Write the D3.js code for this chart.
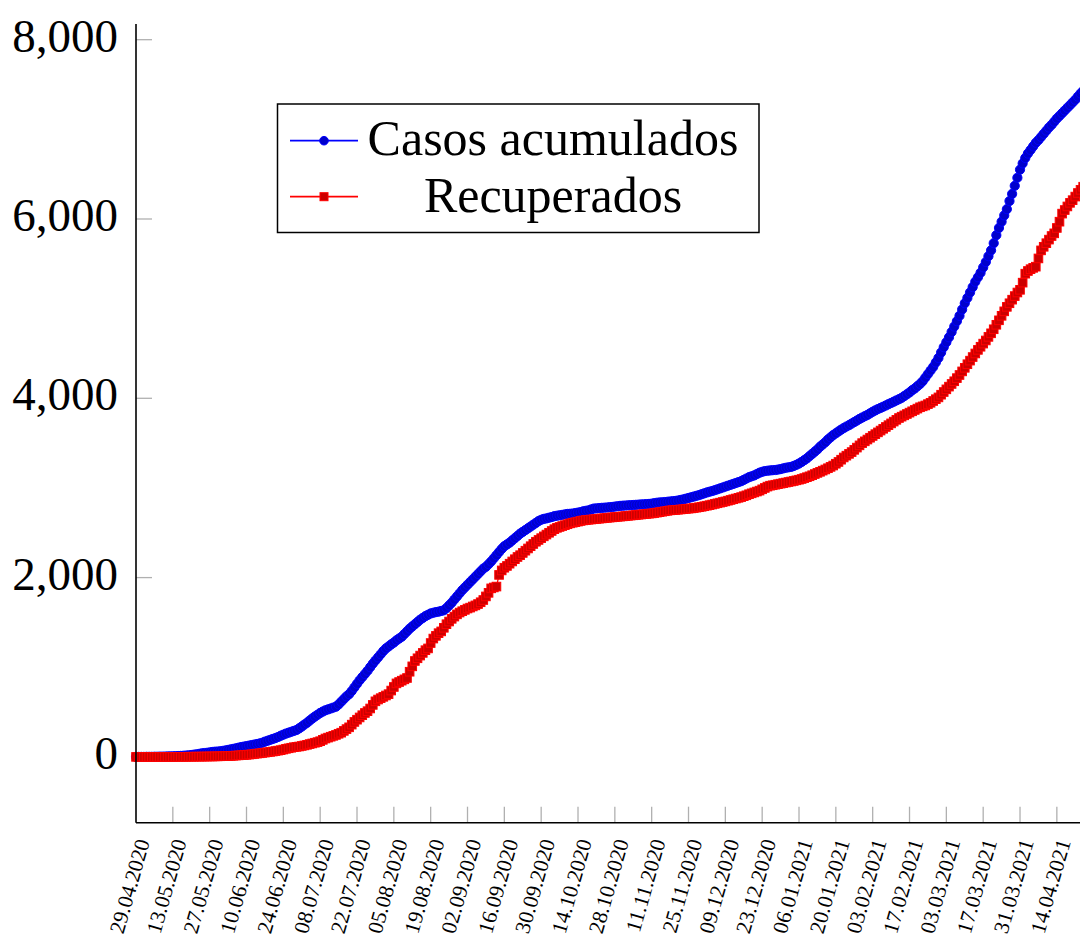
<!DOCTYPE html>
<html>
<head>
<meta charset="utf-8">
<script src="https://cdn.jsdelivr.net/npm/d3@7"></script>
<style>
  html, body { margin: 0; padding: 0; background: #fff; }
  svg { display: block; }
  text { font-family: "Liberation Serif", "DejaVu Serif", serif; fill: #000; }
</style>
</head>
<body>
<svg id="chart" width="1080" height="943"></svg>
<script>
// ---------- data (daily values starting 29.04.2020) ----------
const startDate = "29.04.2020";
const seriesNames = ["Casos acumulados", "Recuperados"];

const casosAcumulados = [
  0,0,0,0,1,1,1,2,2,3,
  3,4,5,6,7,8,10,11,13,15,
  18,21,25,29,34,40,43,46,50,55,
  58,60,63,67,72,78,84,90,96,103,
  110,115,120,126,132,138,144,150,158,170,
  180,190,200,210,222,236,248,260,270,280,
  290,300,318,338,360,380,405,428,450,470,
  490,506,520,530,540,550,560,585,615,645,
  675,700,735,775,815,855,890,925,960,1000,
  1040,1075,1110,1145,1180,1210,1232,1255,1275,1300,
  1320,1340,1370,1400,1430,1455,1480,1505,1530,1550,
  1570,1585,1600,1608,1615,1620,1628,1635,1660,1690,
  1720,1755,1790,1825,1860,1890,1920,1950,1980,2010,
  2040,2070,2100,2120,2150,2180,2215,2250,2285,2320,
  2350,2370,2390,2415,2440,2465,2490,2510,2530,2550,
  2570,2590,2610,2630,2645,2655,2660,2668,2675,2685,
  2690,2695,2700,2705,2710,2712,2715,2720,2725,2730,
  2740,2745,2750,2760,2770,2772,2775,2778,2780,2782,
  2785,2788,2792,2796,2800,2802,2804,2806,2808,2810,
  2812,2814,2816,2818,2820,2822,2825,2830,2835,2838,
  2840,2843,2846,2849,2852,2855,2860,2866,2872,2880,
  2888,2896,2904,2912,2920,2930,2940,2950,2958,2966,
  2975,2985,2995,3005,3015,3025,3035,3045,3055,3065,
  3075,3090,3105,3120,3130,3140,3155,3170,3180,3188,
  3192,3195,3198,3200,3205,3210,3218,3225,3230,3235,
  3245,3258,3272,3290,3310,3330,3355,3380,3405,3430,
  3460,3485,3510,3540,3565,3590,3610,3630,3650,3668,
  3685,3700,3718,3735,3752,3770,3785,3800,3815,3832,
  3850,3865,3880,3893,3906,3920,3934,3948,3962,3976,
  3990,4005,4025,4045,4065,4090,4110,4135,4160,4190,
  4230,4270,4310,4350,4400,4450,4510,4570,4625,4680,
  4740,4800,4860,4920,4990,5060,5120,5180,5240,5300,
  5350,5400,5460,5520,5585,5650,5730,5820,5900,5970,
  6040,6110,6200,6280,6370,6460,6550,6620,6680,6730,
  6770,6810,6850,6880,6915,6950,6985,7020,7050,7085,
  7120,7150,7180,7210,7240,7270,7300,7330,7365,7400,
  7430,7460
];

const recuperados = [
  0,0,0,0,0,0,0,0,0,0,
  0,0,0,0,0,1,1,1,1,1,
  2,2,2,3,3,3,4,4,5,5,
  6,6,7,8,9,10,11,13,15,17,
  19,21,23,26,29,33,37,40,44,48,
  52,56,60,65,70,75,82,90,96,102,
  108,112,116,122,128,135,143,150,158,165,
  175,190,205,215,225,235,245,258,270,290,
  310,330,360,390,415,440,465,490,510,540,
  580,620,640,655,670,685,700,740,780,820,
  835,850,865,880,950,1010,1070,1100,1130,1160,
  1190,1210,1270,1320,1350,1380,1400,1440,1480,1510,
  1540,1565,1590,1610,1625,1640,1655,1665,1678,1690,
  1705,1725,1750,1790,1830,1880,1890,1900,2030,2080,
  2110,2130,2155,2180,2205,2230,2250,2275,2300,2325,
  2350,2375,2400,2420,2440,2460,2480,2500,2520,2540,
  2555,2565,2575,2585,2595,2605,2612,2618,2625,2632,
  2638,2642,2645,2648,2651,2654,2657,2660,2663,2666,
  2669,2672,2675,2678,2680,2683,2686,2689,2692,2695,
  2698,2701,2704,2707,2710,2713,2716,2720,2725,2730,
  2735,2740,2745,2750,2752,2755,2757,2760,2763,2766,
  2769,2772,2776,2780,2785,2790,2796,2802,2808,2815,
  2822,2829,2836,2843,2850,2858,2866,2874,2882,2890,
  2898,2908,2918,2930,2940,2950,2960,2970,2985,3000,
  3015,3025,3030,3036,3042,3048,3054,3060,3066,3072,
  3078,3085,3092,3100,3110,3120,3130,3142,3155,3168,
  3180,3193,3206,3220,3235,3250,3270,3290,3315,3340,
  3360,3380,3400,3425,3450,3475,3500,3520,3540,3560,
  3580,3600,3620,3640,3660,3680,3700,3720,3740,3760,
  3780,3795,3810,3825,3840,3855,3870,3885,3900,3910,
  3920,3935,3950,3970,3990,4010,4040,4070,4100,4130,
  4160,4190,4225,4260,4300,4340,4380,4420,4460,4500,
  4540,4575,4610,4645,4685,4725,4770,4820,4870,4920,
  4970,5020,5060,5100,5140,5180,5210,5290,5390,5420,
  5440,5455,5468,5560,5650,5690,5730,5770,5810,5840,
  5900,5970,6060,6100,6140,6180,6210,6250,6290,6325,
  6360,6400
];

const xTickLabels = [
  "29.04.2020","13.05.2020","27.05.2020","10.06.2020","24.06.2020","08.07.2020",
  "22.07.2020","05.08.2020","19.08.2020","02.09.2020","16.09.2020","30.09.2020",
  "14.10.2020","28.10.2020","11.11.2020","25.11.2020","09.12.2020","23.12.2020",
  "06.01.2021","20.01.2021","03.02.2021","17.02.2021","03.03.2021","17.03.2021",
  "31.03.2021","14.04.2021"
];
const yTickValues = [0, 2000, 4000, 6000, 8000];
const xAxisEnd = "25.04.2021";
const yDomain = [-734, 8175];

// ---------- layout ----------
const parse = d3.timeParse("%d.%m.%Y");
const t0 = parse(startDate);
const t1 = parse(xAxisEnd);
const pxPerDay = 2.631;
const plotLeft = 136, plotTop = 24, plotBottom = 822.7;
const plotRight = plotLeft + pxPerDay * d3.timeDay.count(t0, t1);

const x = d3.scaleTime().domain([t0, t1]).range([plotLeft, plotRight]);
const y = d3.scaleLinear().domain(yDomain).range([plotBottom, plotTop]);

const svg = d3.select("#chart");

const mk = arr => arr.map((v, i) => ({ date: d3.timeDay.offset(t0, i), v }));
const blueData = mk(casosAcumulados);
const redData = mk(recuperados);

// ---------- ticks ----------
const tickGray = "#b0b0b0";
const xTickDates = xTickLabels.map(parse);

const gx = svg.append("g");
gx.selectAll("line.tick").data(xTickDates.slice(1)).join("line")
  .attr("x1", d => x(d)).attr("x2", d => x(d))
  .attr("y1", plotBottom).attr("y2", plotBottom - 16)
  .attr("stroke", tickGray).attr("stroke-width", 1.3);

gx.selectAll("text").data(xTickLabels).join("text")
  .attr("transform", d => `translate(${x(parse(d)) + 14},${plotBottom + 19}) rotate(-74)`)
  .attr("text-anchor", "end")
  .attr("font-size", 21.5)
  .text(d => d);

const gy = svg.append("g");
gy.selectAll("line").data(yTickValues).join("line")
  .attr("x1", plotLeft).attr("x2", plotLeft + 16)
  .attr("y1", d => y(d)).attr("y2", d => y(d))
  .attr("stroke", tickGray).attr("stroke-width", 1.3);

gy.selectAll("text").data(yTickValues).join("text")
  .attr("x", plotLeft - 18).attr("y", d => y(d) + 12)
  .attr("text-anchor", "end")
  .attr("font-size", 47)
  .text(d => d3.format(",")(d));

// ---------- series ----------
const line = d3.line().x(d => x(d.date)).y(d => y(d.v));

const gBlue = svg.append("g");
gBlue.append("path").datum(blueData)
  .attr("d", line).attr("fill", "none").attr("stroke", "#0000ff").attr("stroke-width", 1.3);
gBlue.selectAll("circle").data(blueData).join("circle")
  .attr("cx", d => x(d.date)).attr("cy", d => y(d.v)).attr("r", 4.6)
  .attr("fill", "#0000cc").attr("stroke", "#0000ff").attr("stroke-width", 1);

const gRed = svg.append("g");
gRed.append("path").datum(redData)
  .attr("d", line).attr("fill", "none").attr("stroke", "#ff0000").attr("stroke-width", 1.3);
const sq = 8.6;
gRed.selectAll("rect").data(redData).join("rect")
  .attr("x", d => x(d.date) - sq / 2).attr("y", d => y(d.v) - sq / 2)
  .attr("width", sq).attr("height", sq)
  .attr("fill", "#cc0000").attr("stroke", "#ff0000").attr("stroke-width", 1);

// ---------- axis lines ----------
svg.append("line").attr("x1", plotLeft).attr("x2", plotLeft).attr("y1", plotTop).attr("y2", plotBottom)
  .attr("stroke", "#000").attr("stroke-width", 1.6);
svg.append("line").attr("x1", plotLeft).attr("x2", plotRight).attr("y1", plotBottom).attr("y2", plotBottom)
  .attr("stroke", "#000").attr("stroke-width", 1.6);

// ---------- legend ----------
const lg = svg.append("g");
lg.append("rect").attr("x", 277.5).attr("y", 104).attr("width", 481.5).attr("height", 128.5)
  .attr("fill", "#fff").attr("stroke", "#000").attr("stroke-width", 1.5);
const legendRows = [
  { name: seriesNames[0], color: "#0000ff", fill: "#0000cc", shape: "circle", ly: 140.7, base: 155 },
  { name: seriesNames[1], color: "#ff0000", fill: "#cc0000", shape: "square", ly: 196.7, base: 211.7 }
];
legendRows.forEach(r => {
  lg.append("line").attr("x1", 290).attr("x2", 358).attr("y1", r.ly).attr("y2", r.ly)
    .attr("stroke", r.color).attr("stroke-width", 1.8);
  if (r.shape === "circle") {
    lg.append("circle").attr("cx", 324).attr("cy", r.ly).attr("r", 4.3)
      .attr("fill", r.fill).attr("stroke", r.color);
  } else {
    lg.append("rect").attr("x", 324 - 4).attr("y", r.ly - 4).attr("width", 8).attr("height", 8)
      .attr("fill", r.fill).attr("stroke", r.color);
  }
  lg.append("text").attr("x", 553).attr("y", r.base).attr("text-anchor", "middle")
    .attr("font-size", 50).text(r.name);
});
</script>
</body>
</html>
